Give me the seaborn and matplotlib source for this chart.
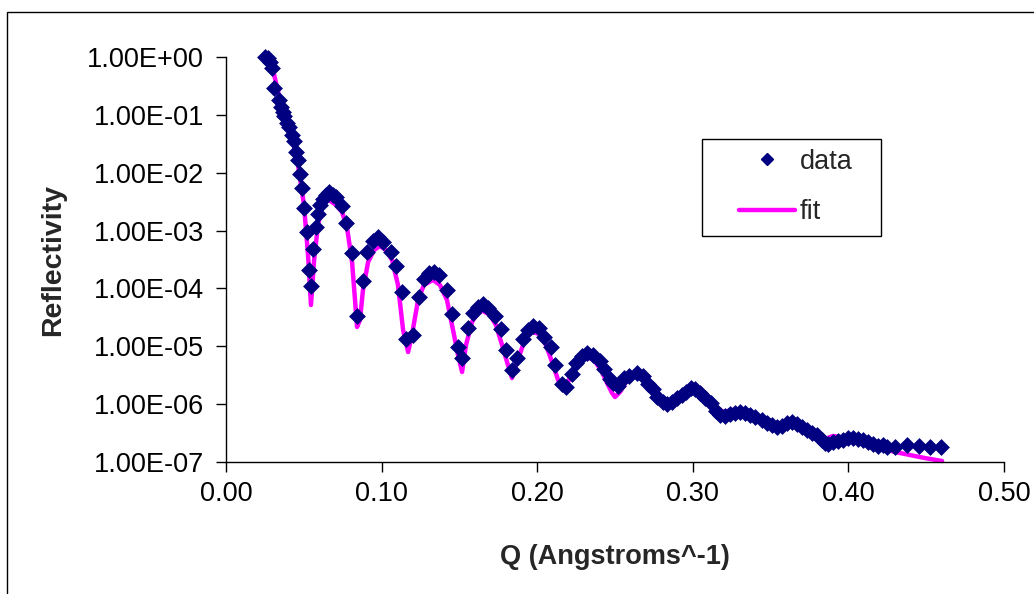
import matplotlib
matplotlib.use("Agg")
import matplotlib.pyplot as plt
from matplotlib.patches import Rectangle
from matplotlib.lines import Line2D
from matplotlib.ticker import FixedLocator, FuncFormatter, NullLocator
import seaborn as sns

# measured reflectivity
data_q = [0.0251, 0.0270, 0.0283, 0.0296, 0.0308, 0.0341, 0.0353, 0.0366, 0.0373, 0.0392,
          0.0405, 0.0424, 0.0437, 0.0450, 0.0463, 0.0476, 0.0488, 0.0501, 0.0521, 0.0533,
          0.0546, 0.0559, 0.0578, 0.0591, 0.0604, 0.0623, 0.0643, 0.0662, 0.0688, 0.0707,
          0.0746, 0.0771, 0.0810, 0.0842, 0.0880, 0.0906, 0.0945, 0.0977, 0.1009, 0.1060,
          0.1093, 0.1131, 0.1157, 0.1202, 0.1240, 0.1272, 0.1305, 0.1337, 0.1369, 0.1420,
          0.1452, 0.1491, 0.1517, 0.1555, 0.1587, 0.1620, 0.1652, 0.1684, 0.1729, 0.1767,
          0.1799, 0.1838, 0.1870, 0.1909, 0.1941, 0.1973, 0.2012, 0.2044, 0.2089, 0.2114,
          0.2159, 0.2185, 0.2224, 0.2249, 0.2288, 0.2320, 0.2359, 0.2404, 0.2429, 0.2468,
          0.2487, 0.2519, 0.2558, 0.2590, 0.2641, 0.2680, 0.2712, 0.2744, 0.2770, 0.2808,
          0.2834, 0.2866, 0.2898, 0.2931, 0.2956, 0.2988, 0.3014, 0.3046, 0.3078, 0.3117,
          0.3150, 0.3175, 0.3207, 0.3239, 0.3271, 0.3303, 0.3336, 0.3368, 0.3400, 0.3445,
          0.3477, 0.3509, 0.3541, 0.3573, 0.3605, 0.3638, 0.3670, 0.3702, 0.3734, 0.3766,
          0.3798, 0.3830, 0.3850, 0.3869, 0.3901, 0.3933, 0.3965, 0.3997, 0.4030, 0.4062,
          0.4094, 0.4126, 0.4158, 0.4190, 0.4222, 0.4248, 0.4300, 0.4377, 0.4454, 0.4524,
          0.4595]
data_r = [1.00, 0.961, 0.820, 0.645, 0.291, 0.181, 0.137, 0.112, 0.0955, 0.0723,
          0.0617, 0.0449, 0.0353, 0.0228, 0.0166, 9.51e-3, 5.44e-3, 2.46e-3, 9.45e-4, 2.08e-4,
          1.10e-4, 4.81e-4, 1.15e-3, 1.94e-3, 2.77e-3, 3.52e-3, 4.12e-3, 4.65e-3, 4.12e-3, 3.80e-3,
          2.66e-3, 1.35e-3, 4.10e-4, 3.34e-5, 1.34e-4, 4.26e-4, 6.61e-4, 7.75e-4, 6.35e-4, 4.26e-4,
          2.44e-4, 8.68e-5, 1.34e-5, 1.57e-5, 7.11e-5, 1.46e-4, 1.85e-4, 1.92e-4, 1.71e-4, 9.40e-5,
          3.62e-5, 9.73e-6, 6.28e-6, 2.07e-5, 3.76e-5, 4.78e-5, 5.38e-5, 4.59e-5, 3.34e-5, 1.99e-5,
          8.63e-6, 3.89e-6, 6.28e-6, 1.34e-5, 1.91e-5, 2.24e-5, 2.07e-5, 1.45e-5, 9.73e-6, 4.75e-6,
          2.23e-6, 1.98e-6, 3.32e-6, 5.14e-6, 6.79e-6, 7.66e-6, 7.08e-6, 5.57e-6, 4.06e-6, 2.72e-6,
          2.32e-6, 2.06e-6, 2.83e-6, 3.07e-6, 3.46e-6, 3.07e-6, 2.23e-6, 1.83e-6, 1.33e-6, 1.09e-6,
          1.01e-6, 1.09e-6, 1.28e-6, 1.44e-6, 1.62e-6, 1.90e-6, 1.83e-6, 1.56e-6, 1.28e-6, 1.05e-6,
          7.62e-7, 6.49e-7, 6.24e-7, 6.76e-7, 7.03e-7, 7.31e-7, 7.03e-7, 6.49e-7, 6.00e-7, 5.32e-7,
          4.72e-7, 4.36e-7, 4.03e-7, 4.19e-7, 4.72e-7, 4.92e-7, 4.54e-7, 4.03e-7, 3.57e-7, 3.17e-7,
          2.93e-7, 2.40e-7, 2.13e-7, 2.05e-7, 2.22e-7, 2.31e-7, 2.40e-7, 2.60e-7, 2.60e-7, 2.50e-7,
          2.40e-7, 2.22e-7, 2.05e-7, 1.89e-7, 1.97e-7, 1.82e-7, 1.82e-7, 1.97e-7, 1.89e-7, 1.82e-7,
          1.82e-7]

# model fit
fit_q = [0.0251, 0.0296, 0.0347, 0.0411, 0.0463, 0.0501, 0.0527, 0.0546, 0.0566, 0.0591,
         0.0623, 0.0662, 0.0707, 0.0746, 0.0778, 0.0810, 0.0829, 0.0842, 0.0861, 0.0880,
         0.0913, 0.0951, 0.0990, 0.1028, 0.1067, 0.1105, 0.1138, 0.1170, 0.1195, 0.1234,
         0.1272, 0.1330, 0.1375, 0.1420, 0.1459, 0.1491, 0.1517, 0.1542, 0.1581, 0.1620,
         0.1652, 0.1697, 0.1735, 0.1774, 0.1806, 0.1838, 0.1870, 0.1909, 0.1941, 0.1973,
         0.2012, 0.2057, 0.2102, 0.2134, 0.2166, 0.2198, 0.2243, 0.2281, 0.2320, 0.2365,
         0.2410, 0.2449, 0.2481, 0.2500, 0.2532, 0.2571, 0.2616, 0.2661, 0.2699, 0.2738,
         0.2789, 0.2834, 0.2879, 0.2931, 0.2995, 0.3046, 0.3111, 0.3175, 0.3226, 0.3284,
         0.3336, 0.3400, 0.3464, 0.3528, 0.3593, 0.3657, 0.3721, 0.3785, 0.3850, 0.3901,
         0.3946, 0.3997, 0.4062, 0.4126, 0.4203, 0.4300, 0.4396, 0.4492, 0.4602]
fit_r = [1.0, 0.699, 0.181, 0.0593, 0.0136, 2.77e-3, 3.79e-4, 5.17e-5, 3.10e-4, 1.25e-3,
         3.00e-3, 3.37e-3, 2.77e-3, 2.09e-3, 1.11e-3, 2.86e-4, 6.31e-5, 2.16e-5, 2.85e-5, 9.40e-5,
         2.86e-4, 4.61e-4, 5.41e-4, 4.61e-4, 3.10e-4, 1.15e-4, 1.91e-5, 7.97e-6, 1.57e-5, 6.31e-5,
         1.15e-4, 1.40e-4, 1.15e-4, 6.31e-5, 1.91e-5, 7.08e-6, 3.60e-6, 1.05e-5, 2.63e-5, 3.92e-5,
         4.07e-5, 3.47e-5, 2.33e-5, 1.05e-5, 5.36e-6, 2.83e-6, 5.36e-6, 1.05e-5, 1.57e-5, 1.77e-5,
         1.63e-5, 1.05e-5, 4.75e-6, 2.62e-6, 1.76e-6, 2.42e-6, 4.57e-6, 6.28e-6, 6.53e-6, 5.80e-6,
         3.89e-6, 2.32e-6, 1.56e-6, 1.33e-6, 1.62e-6, 2.42e-6, 3.07e-6, 3.07e-6, 2.42e-6, 1.62e-6,
         1.09e-6, 8.93e-7, 1.09e-6, 1.44e-6, 1.69e-6, 1.38e-6, 9.66e-7, 7.31e-7, 7.62e-7, 8.24e-7,
         7.31e-7, 5.75e-7, 4.72e-7, 4.03e-7, 4.54e-7, 4.36e-7, 3.57e-7, 2.93e-7, 2.50e-7, 2.82e-7,
         2.71e-7, 2.40e-7, 2.22e-7, 1.97e-7, 1.75e-7, 1.49e-7, 1.32e-7, 1.17e-7, 1.04e-7]

x_ticks = [0.0, 0.1, 0.2, 0.3, 0.4, 0.5]
y_ticks = [1e0, 1e-1, 1e-2, 1e-3, 1e-4, 1e-5, 1e-6, 1e-7]

data_color = "#000080"
fit_color = "#FF00FF"

sns.set_style("ticks")
plt.rcParams["font.family"] = ["Liberation Sans", "DejaVu Sans"]

fig = plt.figure(figsize=(10.34, 5.94), dpi=100)
ax = fig.add_axes([0.2186, 0.2222, 0.7524, 0.6818])

sns.lineplot(x=fit_q, y=fit_r, color=fit_color, linewidth=3.2, estimator=None,
             sort=False, ax=ax, clip_on=False, zorder=2)
sns.scatterplot(x=data_q, y=data_r, marker="D", color=data_color, s=65,
                edgecolor=data_color, linewidth=0.5, ax=ax, clip_on=False, zorder=3)

ax.set_yscale("log")
ax.set_xlim(0, 0.5)
ax.set_ylim(1e-7, 1)
ax.xaxis.set_major_locator(FixedLocator(x_ticks))
ax.yaxis.set_major_locator(FixedLocator(y_ticks))
ax.yaxis.set_minor_locator(NullLocator())
ax.xaxis.set_major_formatter(FuncFormatter(lambda v, p: f"{v:.2f}"))
ax.yaxis.set_major_formatter(FuncFormatter(lambda v, p: f"{v:.2E}"))

sns.despine(ax=ax)
for s in ["left", "bottom"]:
    ax.spines[s].set_color("black")
    ax.spines[s].set_linewidth(1)
ax.tick_params(axis="both", direction="out", length=7, width=1, labelsize=19.5,
               colors="black")
ax.tick_params(axis="y", pad=9)
ax.tick_params(axis="x", pad=7)

ax.set_xlabel("Q (Angstroms^-1)", fontsize=19.5, fontweight="bold", labelpad=26)
ax.set_ylabel("Reflectivity", fontsize=20.5, fontweight="bold", labelpad=15)

# legend: no frame from the legend itself, the box is drawn separately
handles = [Line2D([], [], linestyle="none", marker="D", color=data_color, markersize=6.5),
           Line2D([], [], color=fit_color, linewidth=3.2)]
ax.legend(handles, ["data", "fit"], loc="center left", bbox_to_anchor=(0.6594, 0.679),
          frameon=False, borderpad=0, borderaxespad=0, handlelength=2.05,
          handletextpad=0.2, labelspacing=0.9, fontsize=19.5)
ax.add_patch(Rectangle((0.612, 0.558), 0.230, 0.2395, transform=ax.transAxes,
                       fill=False, edgecolor="black", linewidth=1, clip_on=False))

# chart area border
fig.add_artist(Rectangle((7 / 1034, -0.1), 1.2, 1.1 - 12 / 594, transform=fig.transFigure,
                         fill=False, edgecolor="black", linewidth=1))

fig.savefig("out.png", dpi=100)
